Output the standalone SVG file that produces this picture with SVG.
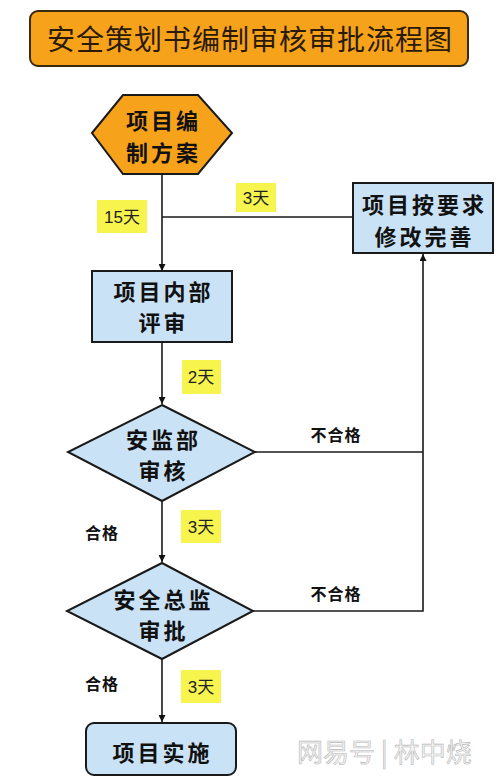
<svg xmlns="http://www.w3.org/2000/svg" width="500" height="782" viewBox="0 0 500 782">
<defs>
<marker id="ah" viewBox="0 0 10 10" refX="10" refY="5" markerWidth="7" markerHeight="7" markerUnits="userSpaceOnUse" orient="auto">
<path d="M0,0 L10,5 L0,10 z" fill="#111"/>
</marker>
<style>
.node{fill:#C9E2F5;stroke:#1a1a1a;stroke-width:2}
.nt{font-family:"Noto Sans CJK SC","Noto Sans",sans-serif;font-weight:700;font-size:22px;letter-spacing:3px;fill:#111;text-anchor:middle}
.ln{fill:none;stroke:#1a1a1a;stroke-width:1.6}
.lab{fill:#F7F54D}
.lt{font-family:"Liberation Sans","Noto Sans CJK SC",sans-serif;font-size:17px;fill:#222;text-anchor:middle}
.ct{font-family:"Noto Sans CJK SC",sans-serif;font-weight:700;font-size:16px;letter-spacing:1px;fill:#111;text-anchor:middle}
</style>
</defs>
<rect width="500" height="782" fill="#ffffff"/>
<g id="title">
<rect x="30" y="11" width="438" height="55" rx="8" fill="#F7A21B" stroke="#3a2a10" stroke-width="2"/>
<text x="250" y="50" font-family="Noto Sans CJK SC,sans-serif" font-size="28" letter-spacing="1" fill="#2a1a08" text-anchor="middle">安全策划书编制审核审批流程图</text>
</g>
<g id="connectors">
<line class="ln" x1="162" y1="174" x2="162" y2="271" marker-end="url(#ah)"/>
<line class="ln" x1="162" y1="217" x2="354" y2="217"/>
<line class="ln" x1="162" y1="342" x2="162" y2="404" marker-end="url(#ah)"/>
<line class="ln" x1="162" y1="501" x2="162" y2="562" marker-end="url(#ah)"/>
<line class="ln" x1="162" y1="659" x2="162" y2="722" marker-end="url(#ah)"/>
<polyline class="ln" points="255,452 423,452"/>
<polyline class="ln" points="253,611 423,611 423,254" marker-end="url(#ah)"/>
<rect class="lab" x="97" y="200" width="50" height="33"/>
<text class="lt" x="122" y="223">15天</text>
<rect class="lab" x="236" y="183" width="40" height="29"/>
<text class="lt" x="256" y="204">3天</text>
<rect class="lab" x="182" y="360" width="39" height="34"/>
<text class="lt" x="201" y="383">2天</text>
<rect class="lab" x="181" y="510" width="40" height="33"/>
<text class="lt" x="201" y="533">3天</text>
<rect class="lab" x="181" y="670" width="40" height="33"/>
<text class="lt" x="201" y="693">3天</text>
<text class="ct" x="336" y="441">不合格</text>
<text class="ct" x="336" y="600">不合格</text>
<text class="ct" x="102" y="539">合格</text>
<text class="ct" x="102" y="690">合格</text>
</g>
<g id="n-plan">
<polygon points="92,133 123,95 198,95 232,133 198,174 123,174" fill="#F7A21B" stroke="#1a1a1a" stroke-width="2"/>
<text class="nt" x="163.5" y="129">项目编</text>
<text class="nt" x="163.5" y="161">制方案</text>
</g>
<g id="n-revise">
<rect class="node" x="353" y="183" width="140" height="70"/>
<text class="nt" x="424.5" y="213">项目按要求</text>
<text class="nt" x="424.5" y="245">修改完善</text>
</g>
<g id="n-review">
<rect class="node" x="92" y="271" width="140" height="71"/>
<text class="nt" x="163.5" y="300">项目内部</text>
<text class="nt" x="163.5" y="331">评审</text>
</g>
<g id="n-check">
<polygon class="node" points="162,405 255,452 162,501 68,452"/>
<text class="nt" x="163.5" y="448">安监部</text>
<text class="nt" x="163.5" y="479">审核</text>
</g>
<g id="n-approve">
<polygon class="node" points="162,563 253,611 162,659 67,611"/>
<text class="nt" x="163.5" y="608">安全总监</text>
<text class="nt" x="163.5" y="639">审批</text>
</g>
<g id="n-impl">
<rect class="node" x="86" y="723" width="150" height="52" rx="8"/>
<text class="nt" x="162.5" y="761">项目实施</text>
</g>
<g id="watermark">
<text x="297" y="762" font-family="Noto Sans CJK SC,sans-serif" font-size="26" fill="#f4f4f4" stroke="#b8b8b8" stroke-width="0.6">网易号 | 林中烧</text>
</g>
</svg>
